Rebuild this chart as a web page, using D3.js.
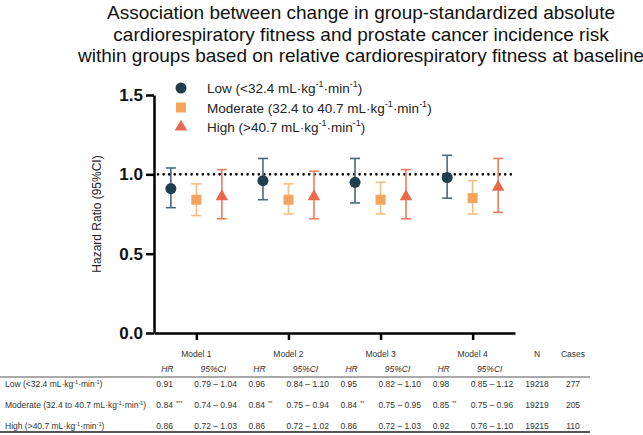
<!DOCTYPE html>
<html>
<head>
<meta charset="utf-8">
<script src="https://cdn.jsdelivr.net/npm/d3@7"></script>
<style>
  body { margin: 0; background: #fff; }
  svg { font-family: "Liberation Sans", Arial, sans-serif; }
</style>
</head>
<body>
<div id="vis"></div>
<script>
const models = ['Model 1', 'Model 2', 'Model 3', 'Model 4'];
const groups = ['Low', 'Moderate', 'High'];

const lowHR = [0.91, 0.96, 0.95, 0.98];
const lowLo = [0.79, 0.84, 0.82, 0.85];
const lowHi = [1.04, 1.10, 1.10, 1.12];

const modHR = [0.84, 0.84, 0.84, 0.85];
const modLo = [0.74, 0.75, 0.75, 0.75];
const modHi = [0.94, 0.94, 0.95, 0.96];

const highHR = [0.86, 0.86, 0.86, 0.92];
const highLo = [0.72, 0.72, 0.72, 0.76];
const highHi = [1.03, 1.02, 1.03, 1.10];

const modSig = ['***', '**', '**', '**'];
const nVals = [19218, 19219, 19215];
const caseVals = [277, 205, 110];
const yTicks = [0, 0.5, 1.0, 1.5];

const titleLines = [
  'Association between change in group-standardized absolute',
  'cardiorespiratory fitness and prostate cancer incidence risk',
  'within groups based on relative cardiorespiratory fitness at baseline'
];

const colors = {Low: '#1f3f4f', Moderate: '#f5a35d', High: '#e86a4b'};
const barColors = {Low: '#4d6878', Moderate: '#f8bd85', High: '#ec7c60'};
const legendText = {
  Low: ['Low (<32.4 mL·kg', '·min', ')'],
  Moderate: ['Moderate (32.4 to 40.7 mL·kg', '·min', ')'],
  High: ['High (>40.7 mL·kg', '·min', ')']
};

const series = [
  {g: 'Low', hr: lowHR, lo: lowLo, hi: lowHi},
  {g: 'Moderate', hr: modHR, lo: modLo, hi: modHi},
  {g: 'High', hr: highHR, lo: highLo, hi: highHi}
];

const W = 643, H = 435;
const svg = d3.select('#vis').append('svg')
  .attr('width', W).attr('height', H);

// title
svg.append('g').selectAll('text')
  .data(titleLines)
  .join('text')
  .attr('x', 361)
  .attr('y', (d, i) => 19 + i * 21.5)
  .attr('text-anchor', 'middle')
  .style('font-size', '19px')
  .style('fill', '#111')
  .text(d => d);

// scales
const xScale = d3.scalePoint().domain(models).range([154, 515]).padding(0.46);
const offset = d3.scalePoint().domain(groups).range([-25.5, 25.5]);
const yScale = d3.scaleLinear().domain([0, 1.5]).range([333, 95]);

// axes
const yAxis = d3.axisLeft(yScale).tickValues(yTicks)
  .tickFormat(d3.format('.1f')).tickSize(8).tickSizeOuter(0).tickPadding(3);
const yG = svg.append('g')
  .attr('transform', 'translate(154,0)')
  .call(yAxis);
yG.selectAll('path, line').attr('stroke', '#000').attr('stroke-width', 2.5);
yG.selectAll('text').style('font-size', '17px').style('font-weight', 'bold').style('fill', '#111');

const xAxis = d3.axisBottom(xScale).tickSize(7).tickSizeOuter(0).tickFormat('');
const xG = svg.append('g')
  .attr('transform', 'translate(0,333)')
  .call(xAxis);
xG.selectAll('path, line').attr('stroke', '#000').attr('stroke-width', 2.5);

svg.append('text')
  .attr('transform', `translate(101,${(yScale(0) + yScale(1.5)) / 2}) rotate(-90)`)
  .attr('text-anchor', 'middle')
  .style('font-size', '12px')
  .style('fill', '#222')
  .text('Hazard Ratio (95%CI)');

// reference line at 1.0
svg.append('line')
  .attr('x1', 158).attr('x2', 515)
  .attr('y1', yScale(1)).attr('y2', yScale(1))
  .attr('stroke', '#000')
  .attr('stroke-width', 2.6)
  .attr('stroke-linecap', 'round')
  .attr('stroke-dasharray', '0 5.6');

// error bars + markers
const capW = 5;
series.forEach(s => {
  const g = svg.append('g');
  models.forEach((m, i) => {
    const cx = xScale(m) + offset(s.g);
    const bar = g.append('g').attr('stroke', barColors[s.g]).attr('stroke-width', 1.6);
    bar.append('line').attr('x1', cx).attr('x2', cx)
      .attr('y1', yScale(s.lo[i])).attr('y2', yScale(s.hi[i]));
    [s.lo[i], s.hi[i]].forEach(v => {
      bar.append('line').attr('x1', cx - capW).attr('x2', cx + capW)
        .attr('y1', yScale(v)).attr('y2', yScale(v));
    });
    drawMarker(g, s.g, cx, yScale(s.hr[i]));
  });
});

function drawMarker(g, grp, cx, cy) {
  if (grp === 'Low') {
    g.append('circle').attr('cx', cx).attr('cy', cy).attr('r', 5.5).attr('fill', colors.Low);
  } else if (grp === 'Moderate') {
    g.append('rect').attr('x', cx - 5).attr('y', cy - 5).attr('width', 10).attr('height', 10)
      .attr('fill', colors.Moderate);
  } else {
    g.append('path')
      .attr('d', d3.symbol(d3.symbolTriangle, 68)())
      .attr('transform', `translate(${cx},${cy})`)
      .attr('fill', colors.High);
  }
}

// legend
groups.forEach((grp, i) => {
  const ly = 88 + i * 19.5;
  drawMarker(svg, grp, 181, ly);
  const t = svg.append('text')
    .attr('x', 207).attr('y', ly + 5)
    .style('font-size', '13.5px').style('fill', '#222');
  const parts = legendText[grp];
  t.append('tspan').text(parts[0]);
  t.append('tspan').attr('dy', -6).style('font-size', '9px').text('-1');
  t.append('tspan').attr('dy', 6).text(parts[1]);
  t.append('tspan').attr('dy', -6).style('font-size', '9px').text('-1');
  t.append('tspan').attr('dy', 6).text(parts[2]);
});

// table below the chart
const tbl = svg.append('g').style('font-size', '8.5px').style('fill', '#333');
const colN = 537, colCases = 573;

models.forEach(m => {
  const c = xScale(m);
  tbl.append('text').attr('x', c).attr('y', 357).attr('text-anchor', 'middle').text(m);
  tbl.append('text').attr('x', c - 29).attr('y', 372).attr('text-anchor', 'middle')
    .style('font-style', 'italic').text('HR');
  tbl.append('text').attr('x', c + 17).attr('y', 372).attr('text-anchor', 'middle')
    .style('font-style', 'italic').text('95%CI');
});
tbl.append('text').attr('x', colN).attr('y', 357).attr('text-anchor', 'middle').text('N');
tbl.append('text').attr('x', colCases).attr('y', 357).attr('text-anchor', 'middle').text('Cases');

tbl.append('line').attr('x1', 0).attr('x2', 590).attr('y1', 377).attr('y2', 377)
  .attr('stroke', '#555').attr('stroke-width', 1);
tbl.append('line').attr('x1', 0).attr('x2', 590).attr('y1', 432).attr('y2', 432)
  .attr('stroke', '#555').attr('stroke-width', 2);

const fmt = d3.format('.2f');
series.forEach((s, r) => {
  const ry = 387 + r * 21;
  const t = tbl.append('text').attr('x', 5).attr('y', ry);
  const parts = legendText[s.g];
  t.append('tspan').text(parts[0]);
  t.append('tspan').attr('dy', -3).style('font-size', '5.5px').text('-1');
  t.append('tspan').attr('dy', 3).text(parts[1]);
  t.append('tspan').attr('dy', -3).style('font-size', '5.5px').text('-1');
  t.append('tspan').attr('dy', 3).text(parts[2]);

  models.forEach((m, i) => {
    const c = xScale(m);
    const h = tbl.append('text').attr('x', c - 40).attr('y', ry).text(fmt(s.hr[i]));
    if (s.g === 'Moderate') {
      h.append('tspan').attr('dx', 3).attr('dy', -3).style('font-size', '5.5px').text(modSig[i]);
    }
    tbl.append('text').attr('x', c - 2).attr('y', ry)
      .text(fmt(s.lo[i]) + ' – ' + fmt(s.hi[i]));
  });
  tbl.append('text').attr('x', colN).attr('y', ry).attr('text-anchor', 'middle').text(nVals[r]);
  tbl.append('text').attr('x', colCases).attr('y', ry).attr('text-anchor', 'middle').text(caseVals[r]);
});
</script>
</body>
</html>
